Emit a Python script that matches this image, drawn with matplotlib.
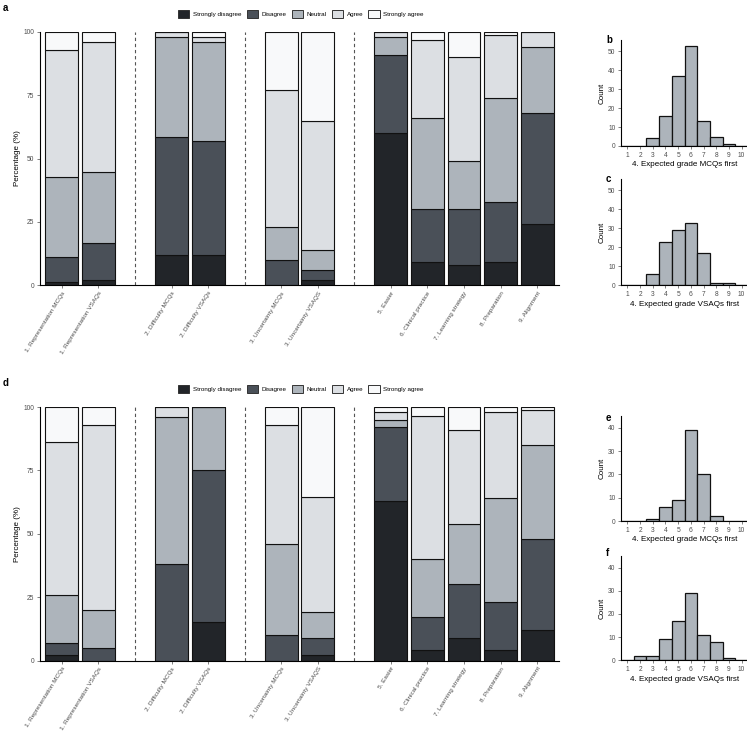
import matplotlib
matplotlib.use("Agg")
import matplotlib.pyplot as plt
from matplotlib.patches import Patch

plt.rcParams['font.family'] = ['Liberation Sans', 'DejaVu Sans']

# ---------------- data ----------------
levels = ["Strongly disagree", "Disagree", "Neutral", "Agree", "Strongly agree"]
level_colors = ["#222529", "#4a5058", "#adb4bb", "#dcdfe3", "#f8f9fa"]

items = ["1. Representation MCQs", "1. Representation VSAQs",
         "2. Difficulty MCQs", "2. Difficulty VSAQs",
         "3. Uncertainty MCQs", "3. Uncertainty VSAQS",
         "5. Easier", "6. Clinical practice", "7. Learning strategy",
         "8. Preparation", "9. Alignment"]
item_pos = [1, 2, 4, 5, 7, 8, 10, 11, 12, 13, 14]
separators = [3, 6, 9]

# panel a, percentage per level for each item
a_sd = [1, 2, 12, 12, 0, 2, 60, 9, 8, 9, 24]
a_d = [10, 14.7, 46.5, 45, 10, 4, 31, 21, 22, 24, 44]
a_n = [31.5, 27.8, 39.5, 39, 13, 8, 7, 36, 19, 41, 26]
a_a = [50.5, 51.5, 2, 2, 54, 51, 2, 31, 41, 25, 6]
a_sa = [7, 4, 0, 2, 23, 35, 0, 3, 10, 1, 0]

# panel d
d_sd = [2, 0, 0, 15, 0, 2, 63, 4, 9, 4, 12]
d_d = [5, 5, 38, 60, 10, 7, 29, 13, 21, 19, 36]
d_n = [19, 15, 58, 25, 36, 10, 3, 23, 24, 41, 37]
d_a = [60, 73, 4, 0, 47, 45.5, 3, 56.5, 37, 34, 14]
d_sa = [14, 7, 0, 0, 7, 35.5, 2, 3.5, 9, 2, 1]

grades = [1, 2, 3, 4, 5, 6, 7, 8, 9, 10]
b_counts = [0, 0, 4, 16, 37, 53, 13, 5, 1, 0]
c_counts = [0, 0, 6, 23, 29, 33, 17, 1, 1, 0]
e_counts = [0, 0, 1, 6, 9, 39, 20, 2, 0, 0]
f_counts = [0, 2, 2, 9, 17, 29, 11, 8, 1, 0]

W, H = 747, 734
fig = plt.figure(figsize=(W / 100, H / 100), dpi=100)


def fa(x0, y_top, x1, y_bot):
    return [x0 / W, 1 - y_bot / H, (x1 - x0) / W, (y_bot - y_top) / H]


tick_col = "#4d4d4d"


def stacked(ax, series):
    bottom = [0.0] * len(item_pos)
    for vals, col in zip(series, level_colors):
        ax.bar(item_pos, vals, bottom=bottom, width=0.9, color=col,
               edgecolor="#111111", linewidth=0.8, zorder=2)
        bottom = [b + v for b, v in zip(bottom, vals)]
    for s in separators:
        ax.axvline(s, color="#555555", linestyle=(0, (3, 2.5)), linewidth=0.8, zorder=1)
    ax.set_xlim(0.4, 14.6)
    ax.set_ylim(0, 100)
    ax.set_yticks([0, 25, 50, 75, 100])
    ax.set_xticks(item_pos)
    ax.set_xticklabels(items, rotation=58, ha="right", va="top",
                       rotation_mode="anchor", fontsize=4.6, color=tick_col)
    ax.tick_params(axis="y", labelsize=4.8, colors=tick_col, length=2, width=0.5, pad=2)
    ax.tick_params(axis="x", length=2, width=0.5, colors=tick_col, pad=2)
    ax.set_ylabel("Percentage (%)", fontsize=5.8, labelpad=2)
    for sp in ["top", "right"]:
        ax.spines[sp].set_visible(False)
    for sp in ["left", "bottom"]:
        ax.spines[sp].set_linewidth(0.8)


def hist(ax, counts, ymax, yticks, xlabel):
    ax.bar(grades, counts, width=1.0, color="#adb4bb", edgecolor="#111111",
           linewidth=0.9, zorder=2)
    ax.set_xlim(0.5, 10.5)
    ax.set_ylim(0, ymax)
    ax.set_xticks(grades)
    ax.set_yticks(yticks)
    ax.tick_params(labelsize=4.8, colors=tick_col, length=2, width=0.5, pad=2)
    ax.set_xlabel(xlabel, fontsize=5.8, labelpad=2)
    ax.set_ylabel("Count", fontsize=5.8, labelpad=1.5)
    for sp in ["top", "right"]:
        ax.spines[sp].set_visible(False)
    for sp in ["left", "bottom"]:
        ax.spines[sp].set_linewidth(0.8)


ax_a = fig.add_axes(fa(40, 32, 559, 285))
stacked(ax_a, [a_sd, a_d, a_n, a_a, a_sa])
ax_d = fig.add_axes(fa(40, 407, 559, 660.5))
stacked(ax_d, [d_sd, d_d, d_n, d_a, d_sa])

ax_b = fig.add_axes(fa(621, 40, 748, 146))
hist(ax_b, b_counts, 56, [0, 10, 20, 30, 40, 50], "4. Expected grade MCQs first")
ax_c = fig.add_axes(fa(621, 179, 748, 285.3))
hist(ax_c, c_counts, 56, [0, 10, 20, 30, 40, 50], "4. Expected grade VSAQs first")
ax_e = fig.add_axes(fa(621, 416, 748, 521))
hist(ax_e, e_counts, 45, [0, 10, 20, 30, 40], "4. Expected grade MCQs first")
ax_f = fig.add_axes(fa(621, 556, 748, 660.3))
hist(ax_f, f_counts, 45, [0, 10, 20, 30, 40], "4. Expected grade VSAQs first")

handles = [Patch(facecolor=c, edgecolor="#333333", linewidth=0.7, label=l)
           for c, l in zip(level_colors, levels)]
for ycen in [14, 389]:
    fig.legend(handles=handles, loc="center", bbox_to_anchor=(301 / W, 1 - ycen / H),
               ncol=5, frameon=False, fontsize=4.5, handlelength=1.8,
               handleheight=1.8, handletextpad=0.6, columnspacing=0.8)

for lab, x, y in [("a", 3, 8), ("d", 3, 383), ("b", 606, 40), ("c", 606, 179),
                  ("e", 606, 418), ("f", 606, 553)]:
    fig.text(x / W, 1 - y / H, lab, fontsize=7, fontweight="bold", ha="left", va="center")

fig.savefig("out.png", dpi=100)
